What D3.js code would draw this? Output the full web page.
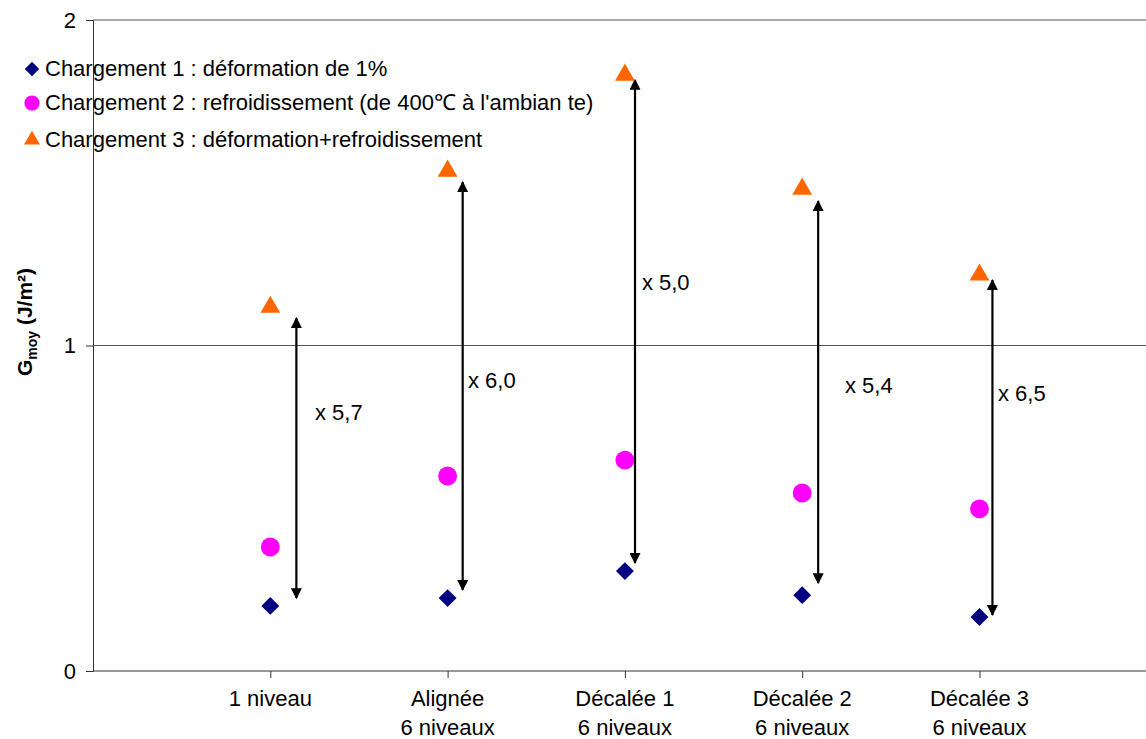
<!DOCTYPE html>
<html><head><meta charset="utf-8">
<script src="https://cdn.jsdelivr.net/npm/d3@7"></script>
<style>body{margin:0;background:#fff}svg{display:block;font-family:"Liberation Sans",Arial,sans-serif}</style>
</head><body><svg id="c" width="1146" height="739"></svg>
<script>
const categories = [["1 niveau"],["Alignée","6 niveaux"],["Décalée 1","6 niveaux"],["Décalée 2","6 niveaux"],["Décalée 3","6 niveaux"]];
const catPos = [1,2,3,4,5];
const chargement1 = [0.20,0.224,0.307,0.233,0.166];
const chargement2 = [0.381,0.599,0.648,0.547,0.498];
const chargement3 = [1.118,1.536,1.831,1.481,1.217];
const seriesNames = ["Chargement 1 : déformation de 1%","Chargement 2 : refroidissement (de 400℃ à l'ambian te)","Chargement 3 : déformation+refroidissement"];
const arrowX = [1.147,2.085,3.057,4.09,5.073];
const arrowTop = [1.084,1.502,1.816,1.444,1.201];
const arrowBottom = [0.224,0.249,0.332,0.270,0.172];
const ratioLabels = ["x 5,7","x 6,0","x 5,0","x 5,4","x 6,5"];
const ratioLabelX = [1.252,2.115,3.096,4.241,5.104];
const ratioLabelY = [0.771,0.869,1.170,0.854,0.829];
const yTicks = [0,1,2];

const FS = 22;
const svg = d3.select("#c");
const x = d3.scaleLinear().domain([0,6]).range([93,93+6*177.3]);
const y = d3.scaleLinear().domain([0,2]).range([671,20]);

// gridlines
svg.append("g").selectAll("line").data([1,2]).join("line")
  .attr("x1",93).attr("x2",1146).attr("y1",d=>y(d)).attr("y2",d=>y(d))
  .attr("stroke","#555").attr("stroke-width",1);

// y axis
const ya = svg.append("g").attr("transform","translate(93,0)")
  .call(d3.axisLeft(y).tickValues(yTicks).tickSize(7).tickPadding(10).tickFormat(d3.format("d")));
ya.select(".domain").attr("stroke","#333");
ya.selectAll(".tick line").attr("stroke","#333");
ya.selectAll("text").attr("font-size",FS).attr("fill","#000").attr("font-family","Liberation Sans, Arial");

// x axis
const xa = svg.append("g").attr("transform","translate(0,671)")
  .call(d3.axisBottom(x).tickValues(catPos).tickSize(7).tickFormat(""));
xa.select(".domain").attr("d","M93,0H1146").attr("stroke","#333");
xa.selectAll(".tick line").attr("stroke","#333");
const lbl = svg.append("g").selectAll("text").data(categories).join("text")
  .attr("x",(d,i)=>x(catPos[i])).attr("y",706)
  .attr("text-anchor","middle").attr("font-size",FS).attr("fill","#000");
lbl.each(function(d){
  const t=d3.select(this);
  d.forEach((s,j)=>t.append("tspan").attr("x",t.attr("x")).attr("dy",j?29:0).text(s));
});

// y label
const yl = svg.append("text").attr("transform","translate(32,322) rotate(-90)")
  .attr("text-anchor","middle").attr("font-size",21).attr("font-weight","bold").attr("fill","#000");
yl.append("tspan").text("G");
yl.append("tspan").attr("font-size",14).attr("dy",5).text("moy");
yl.append("tspan").attr("dy",-5).text(" (J/m²)");

// arrows
const defs = svg.append("defs");
defs.append("marker").attr("id","ah").attr("viewBox","0 0 10 10").attr("refX",9).attr("refY",5)
  .attr("markerWidth",5.5).attr("markerHeight",5).attr("orient","auto-start-reverse").attr("markerUnits","strokeWidth")
  .append("path").attr("d","M0,0L10,5L0,10Z").attr("fill","#000");
svg.append("g").selectAll("line").data(arrowX).join("line")
  .attr("x1",d=>x(d)).attr("x2",d=>x(d))
  .attr("y1",(d,i)=>y(arrowBottom[i])).attr("y2",(d,i)=>y(arrowTop[i]))
  .attr("stroke","#000").attr("stroke-width",2.2)
  .attr("marker-start","url(#ah)").attr("marker-end","url(#ah)");
svg.append("g").selectAll("text").data(ratioLabels).join("text")
  .attr("x",(d,i)=>x(ratioLabelX[i])).attr("y",(d,i)=>y(ratioLabelY[i]))
  .attr("font-size",FS).attr("fill","#000").text(d=>d);

// markers
const sym = [d3.symbolSquare, d3.symbolCircle, d3.symbolTriangle];
const rot = [45, 0, 0];
const cols = ["#000080","#ff00ff","#ff6600"];
const sizes = [160, 280, 170];
const data = [chargement1, chargement2, chargement3];
data.forEach((s,k)=>{
  svg.append("g").selectAll("path").data(s).join("path")
    .attr("transform",(d,i)=>`translate(${x(catPos[i])},${y(d)}) rotate(${rot[k]})`)
    .attr("d",d3.symbol().type(sym[k]).size(sizes[k])).attr("fill",cols[k]);
});

// legend
const legY = [69,103,140];
seriesNames.forEach((n,k)=>{
  svg.append("path").attr("transform",`translate(32,${legY[k]}) rotate(${rot[k]})`)
    .attr("d",d3.symbol().type(sym[k]).size(sizes[k]*0.65)).attr("fill",cols[k]);
  svg.append("text").attr("x",45).attr("y",legY[k]+7).attr("font-size",FS).attr("fill","#000").text(n);
});
</script></body></html>
